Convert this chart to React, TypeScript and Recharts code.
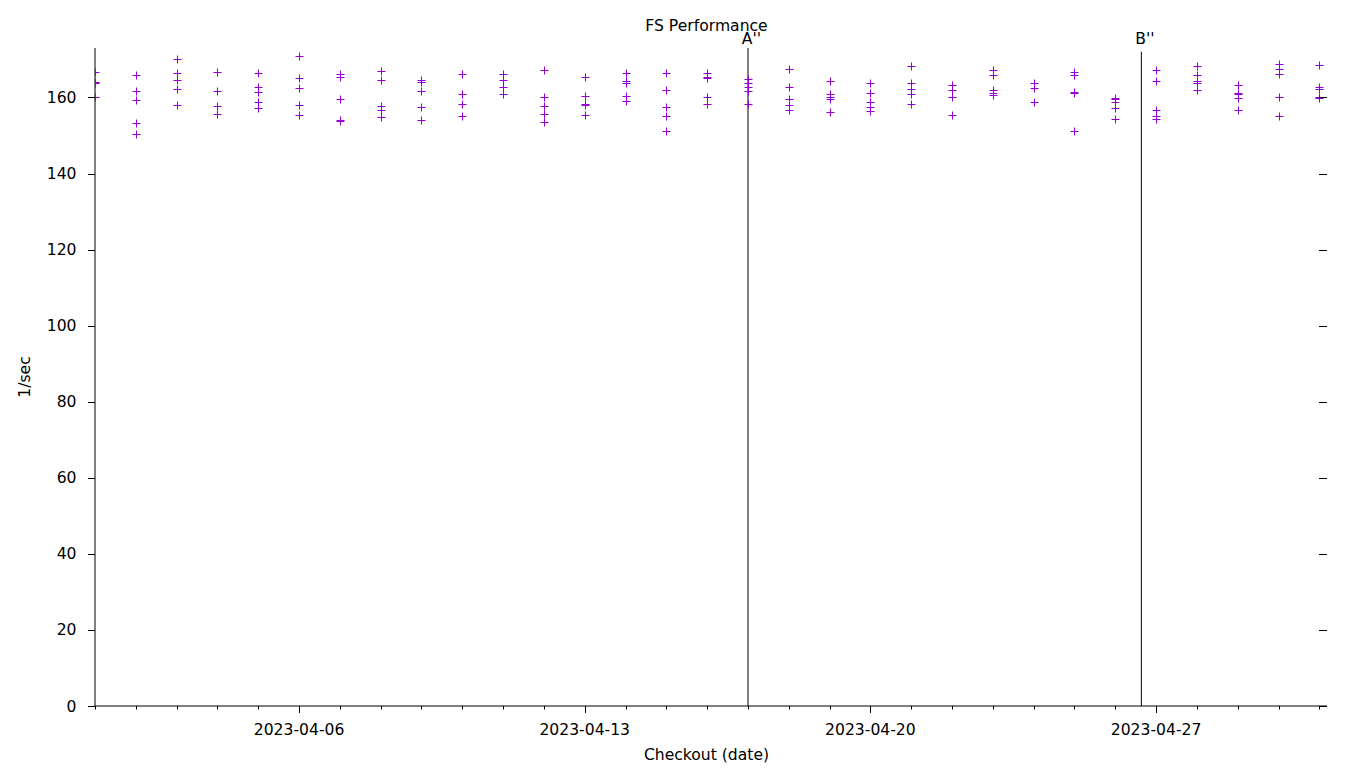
import React from 'react';
import { ScatterChart, Scatter, XAxis, YAxis, ReferenceLine } from 'recharts';

const FONT = "'DejaVu Sans', sans-serif";
const FS = 15.6;
const PURPLE = '#9400d3';

// checkout dates and the runs measured on each (1/sec)
const dates = [
  '2023-04-01', '2023-04-02', '2023-04-03', '2023-04-04', '2023-04-05', '2023-04-06',
  '2023-04-07', '2023-04-08', '2023-04-09', '2023-04-10', '2023-04-11', '2023-04-12',
  '2023-04-13', '2023-04-14', '2023-04-15', '2023-04-16', '2023-04-17', '2023-04-18',
  '2023-04-19', '2023-04-20', '2023-04-21', '2023-04-22', '2023-04-23', '2023-04-24',
  '2023-04-25', '2023-04-26', '2023-04-27', '2023-04-28', '2023-04-29', '2023-04-30',
  '2023-05-01',
];

const runs: number[][] = [
  [166.7, 164.1, 163.8, 160.1],
  [165.8, 161.6, 159.2, 153.2, 150.3],
  [170.0, 166.4, 164.6, 162.1, 157.9],
  [166.6, 161.6, 157.8, 155.7],
  [166.3, 162.7, 161.5, 158.7, 157.3],
  [171.0, 165.0, 162.4, 157.9, 155.3],
  [166.1, 165.4, 159.5, 154.1, 153.7],
  [166.9, 164.6, 157.8, 156.6, 154.9],
  [164.7, 164.0, 161.6, 157.4, 154.0],
  [166.1, 160.9, 158.3, 155.0],
  [166.2, 164.5, 162.7, 160.9],
  [167.1, 160.0, 157.7, 155.7, 153.6],
  [165.3, 160.4, 158.4, 158.0, 155.3],
  [166.3, 164.3, 163.9, 160.4, 159.1],
  [166.3, 162.0, 157.4, 155.2, 151.3],
  [166.3, 165.4, 165.0, 160.1, 158.3],
  [164.8, 163.9, 162.7, 161.7, 158.2],
  [167.6, 162.8, 159.6, 157.9, 156.8],
  [164.2, 161.0, 160.0, 159.6, 156.2],
  [163.8, 161.1, 158.8, 157.4, 156.5],
  [168.2, 163.9, 162.2, 160.8, 158.2],
  [163.3, 161.9, 160.2, 155.5],
  [167.2, 165.8, 162.0, 161.2, 160.7],
  [163.9, 162.5, 158.7],
  [166.6, 166.0, 161.5, 161.1, 151.2],
  [159.9, 159.6, 158.9, 157.3, 154.4],
  [167.1, 164.2, 156.7, 155.1, 154.3],
  [168.2, 166.0, 164.3, 163.9, 161.9],
  [163.4, 161.3, 160.9, 159.9, 156.8],
  [168.7, 167.4, 166.2, 160.2, 155.0],
  [168.5, 162.7, 162.2, 160.2, 159.9],
];

const majorTickDates = ['2023-04-06', '2023-04-13', '2023-04-20', '2023-04-27'];
const yTicks = [0, 20, 40, 60, 80, 100, 120, 140, 160];
const yMax = 173;
const xStart = '2023-04-01';
const xEnd = '2023-05-01T04:30';

const markerLabels = ["A''", "B''"];
const markerTimes = ['2023-04-17T00:00', '2023-04-26T15:20'];
const markerTops = [173, 172];

const T0 = Date.UTC(2023, 3, 1);
const toDay = (s: string) => {
  const [d, t = '00:00'] = s.split('T');
  const [Y, M, D] = d.split('-').map(Number);
  const [h, m] = t.split(':').map(Number);
  return (Date.UTC(Y, M - 1, D, h, m) - T0) / 864e5;
};
const fmtDay = (v: number) => new Date(T0 + v * 864e5).toISOString().slice(0, 10);

const xMin = toDay(xStart);
const xMax = toDay(xEnd);
const dayTicks = dates.map((d) => toDay(d));
const majorDays = majorTickDates.map((d) => toDay(d));

const points = dates.flatMap((d, i) => runs[i].map((v) => ({ x: toDay(d), y: v })));

const px = (v: number) => Math.round(v) + 0.5;

const Cross = (props: any) => {
  const cx = px(props.cx);
  const cy = px(props.cy);
  return <path d={`M${cx - 4},${cy}h8M${cx},${cy - 4}v8`} stroke={PURPLE} strokeWidth={1} fill="none" />;
};

const BottomTick = (props: any) => {
  const { x, y, payload } = props;
  const major = majorDays.includes(payload.value);
  return (
    <g>
      <line x1={px(x)} x2={px(x)} y1={y} y2={y + (major ? 7 : 3.5)} stroke="#000" />
      {major && (
        <text x={x} y={y + 29} textAnchor="middle" fontFamily={FONT} fontSize={FS} fill="#000">
          {fmtDay(payload.value)}
        </text>
      )}
    </g>
  );
};

const TopTick = (props: any) => {
  const { x, y, payload } = props;
  const major = majorDays.includes(payload.value);
  return <line x1={px(x)} x2={px(x)} y1={major ? y - 4 : y} y2={y + 3.7} stroke="#000" />;
};

const LeftTick = (props: any) => {
  const { x, y, payload } = props;
  return (
    <g>
      <line x1={x - 7} x2={x} y1={px(y)} y2={px(y)} stroke="#000" />
      <text x={x - 18.5} y={y + 5.5} textAnchor="end" fontFamily={FONT} fontSize={FS} fill="#000">
        {payload.value}
      </text>
    </g>
  );
};

const RightTick = (props: any) => {
  const { x, y } = props;
  return <line x1={x - 8} x2={x} y1={px(y)} y2={px(y)} stroke="#000" />;
};

const markerLabel = (text: string) => (props: any) => (
  <text x={props.viewBox.x + 3.5} y={44} textAnchor="middle" fontFamily={FONT} fontSize={FS} fill="#000">
    {text}
  </text>
);

export default function App() {
  return (
    <div style={{ position: 'absolute', left: 0, top: 0, width: 1360, height: 768, background: '#fff' }}>
      <ScatterChart width={1360} height={768} margin={{ top: 28, right: 13, bottom: 32, left: 35 }}>
        <XAxis
          dataKey="x"
          type="number"
          domain={[xMin, xMax]}
          ticks={dayTicks}
          interval={0}
          tick={<BottomTick />}
          tickLine={false}
          tickSize={0}
          tickMargin={0}
          axisLine={{ stroke: '#000' }}
          height={30}
          allowDataOverflow
        />
        <XAxis
          xAxisId="top"
          orientation="top"
          type="number"
          domain={[xMin, xMax]}
          ticks={dayTicks}
          interval={0}
          tick={<TopTick />}
          tickLine={false}
          tickSize={0}
          tickMargin={0}
          axisLine={false}
          height={20}
          allowDataOverflow
        />
        <YAxis
          dataKey="y"
          type="number"
          domain={[0, yMax]}
          ticks={yTicks}
          interval={0}
          tick={<LeftTick />}
          tickLine={false}
          tickSize={0}
          tickMargin={0}
          axisLine={{ stroke: '#000' }}
          width={60}
          allowDataOverflow
        />
        <YAxis
          yAxisId="right"
          orientation="right"
          type="number"
          domain={[0, yMax]}
          ticks={yTicks}
          interval={0}
          tick={<RightTick />}
          tickLine={false}
          tickSize={0}
          tickMargin={0}
          axisLine={false}
          width={20}
          allowDataOverflow
        />
        {markerTimes.map((t, i) => (
          <ReferenceLine
            key={t}
            segment={[{ x: toDay(t), y: 0 }, { x: toDay(t), y: markerTops[i] }]}
            stroke="#000"
            strokeWidth={1}
            ifOverflow="visible"
            label={markerLabel(markerLabels[i])}
          />
        ))}
        <Scatter data={points} shape={Cross} isAnimationActive={false} />
      </ScatterChart>
      <svg width={1360} height={768} style={{ position: 'absolute', left: 0, top: 0, pointerEvents: 'none' }}>
        <text x={706.5} y={30.5} textAnchor="middle" fontFamily={FONT} fontSize={FS} fill="#000">
          FS Performance
        </text>
        <text x={706.5} y={760} textAnchor="middle" fontFamily={FONT} fontSize={FS} fill="#000">
          Checkout (date)
        </text>
        <text transform="translate(29.5,377) rotate(-90)" textAnchor="middle" fontFamily={FONT} fontSize={FS} fill="#000">
          1/sec
        </text>
      </svg>
    </div>
  );
}
